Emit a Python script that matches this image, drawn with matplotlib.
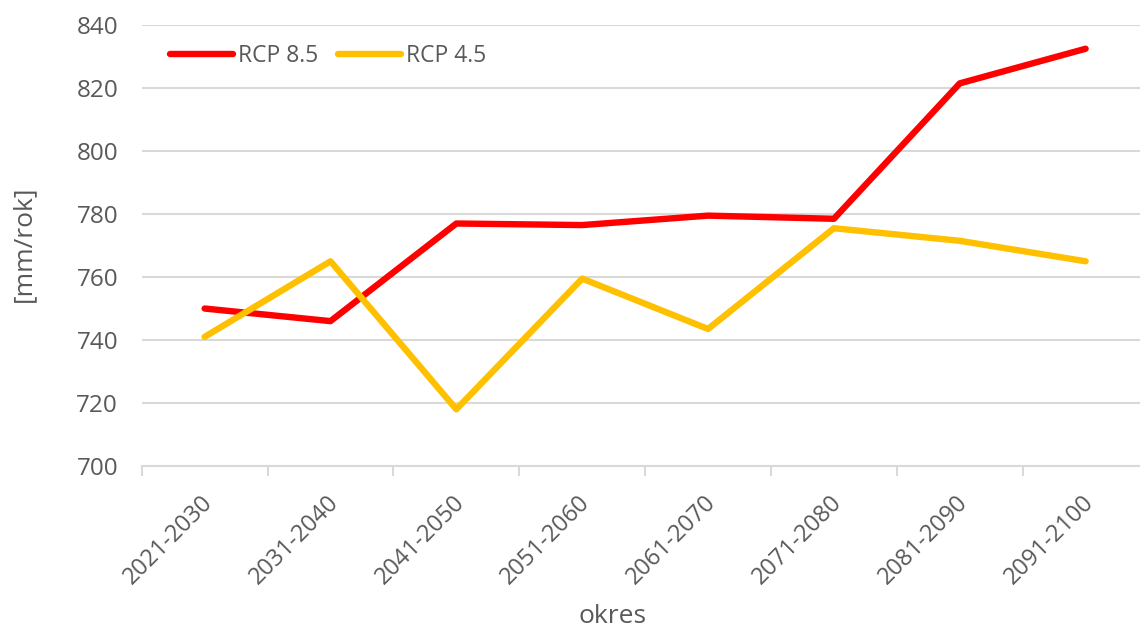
import numpy as np
import matplotlib.pyplot as plt
from matplotlib.transforms import ScaledTranslation

plt.rcParams['font.family'] = ['Open Sans', 'DejaVu Sans']

# decades and annual precipitation for both scenarios
periods = ['2021-2030', '2031-2040', '2041-2050', '2051-2060',
           '2061-2070', '2071-2080', '2081-2090', '2091-2100']
rcp85 = [750, 746, 777, 776.5, 779.5, 778.5, 821.5, 832.5]
rcp45 = [741, 765, 718, 759.5, 743.5, 775.5, 771.5, 765]

grey = '#595959'
grid_col = '#D9D9D9'

fig = plt.figure(figsize=(11.4, 6.28), dpi=100)
ax = fig.add_axes([0.1243, 0.258, 0.8832, 0.702])

x = np.arange(len(periods))
ax.plot(x, rcp85, color='#FF0000', lw=4.6, solid_capstyle='round',
        solid_joinstyle='round', label='RCP 8.5')
ax.plot(x, rcp45, color='#FFC000', lw=4.6, solid_capstyle='round',
        solid_joinstyle='round', label='RCP 4.5')

ax.set_xlim(-0.5, len(periods) - 0.5)
ax.set_ylim(700, 840)
ax.set_yticks(np.arange(700, 841, 20))
ax.yaxis.grid(True, color=grid_col, lw=1.5)
ax.set_axisbelow(True)

for s in ['top', 'right', 'left']:
    ax.spines[s].set_visible(False)
ax.spines['bottom'].set_color(grid_col)
ax.spines['bottom'].set_linewidth(1.5)

# category labels centred, tick marks between categories
ax.set_xticks(x)
ax.set_xticklabels(periods, rotation=45, ha='right', rotation_mode='anchor')
ax.set_xticks(np.arange(-0.5, len(periods)), minor=True)
ax.tick_params(axis='x', which='major', length=0, pad=18, labelsize=17,
               labelcolor=grey)
ax.tick_params(axis='x', which='minor', length=7, width=1.5, color=grid_col)
ax.tick_params(axis='y', length=0, pad=17, labelsize=17.5, labelcolor=grey)

# nudge the rotated labels a little to the left
shift = ScaledTranslation(-4 / 100, 0, fig.dpi_scale_trans)
for lab in ax.get_xticklabels():
    lab.set_transform(lab.get_transform() + shift)

ax.set_xlabel('okres', fontsize=19, color=grey)
ax.xaxis.set_label_coords(0.468, -0.314)
ax.set_ylabel('[mm/rok]', fontsize=19, color=grey, va='center')
ax.yaxis.set_label_coords(-0.117, 0.505)

ax.legend(loc='upper left', ncol=2, frameon=False, fontsize=16.5,
          labelcolor=grey, handlelength=2.75, handletextpad=0.22,
          columnspacing=0.85, bbox_to_anchor=(0.008, 1.004))

fig.savefig('out.png', dpi=100)
